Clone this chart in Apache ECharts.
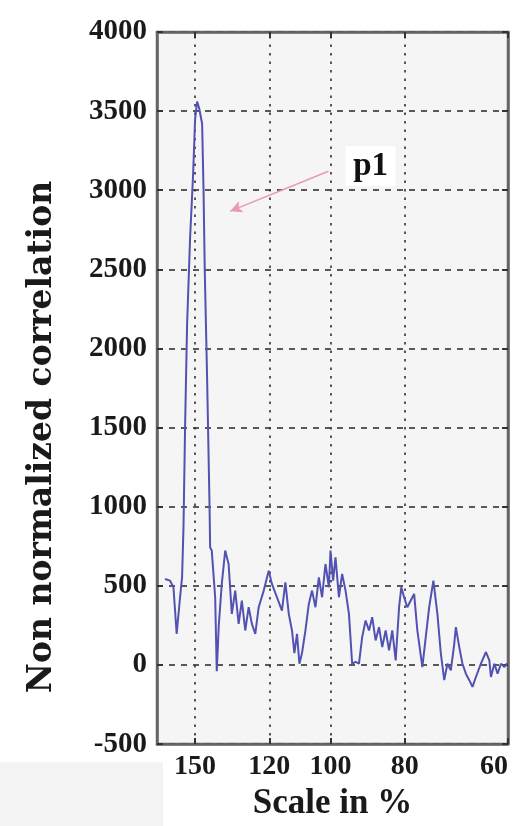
<!DOCTYPE html>
<html>
<head>
<meta charset="utf-8">
<script src="https://cdn.jsdelivr.net/npm/echarts@6/dist/echarts.min.js"></script>
<style>
html,body{margin:0;padding:0;background:#ffffff;}
#chart{width:513px;height:826px;}
</style>
</head>
<body>
<div id="chart"></div>
<script>
// sample position along the scale axis (index units) and correlation values
const sampleIdx = [4, 6.5, 8.2, 9.8, 11.5, 12.5, 13.2, 14, 15, 16.5, 18, 19, 20, 21, 22.5, 23.2, 23.8, 25, 26.2, 26.5,
  27.3, 29, 29.8, 30.8, 32.3, 34, 35.7, 37.3, 39, 40.7, 42.3, 44, 45.7, 47.3, 49, 50.7, 53.2, 55.7, 57.3, 59.8,
  62.3, 64, 65.7, 67.3, 68.5, 69.8, 71, 72.3, 74, 75.7, 77.3, 79, 80.7, 82.3, 84, 85.7, 86.5, 87.8, 89, 90.7,
  92.3, 94, 95.7, 97.3, 99, 100.7, 102.3, 104, 105.7, 107.3, 109, 110.7, 112.3, 114, 115.7, 117.3, 119, 120.7, 121.8, 123.2,
  124.8, 126.5, 128.2, 129.8, 132.3, 134, 135.7, 137.8, 139.8, 141.5, 143.2, 144.8, 146.5, 148.2, 149, 150.7, 152.3, 154,
  155.7, 157.3, 159, 161.5, 164, 165.7, 166.5, 168.2, 169.8, 171.5, 173.2, 174.5];
const corr = [543, 533, 491, 197, 428, 554, 868, 1500, 2150, 2700, 3100, 3450, 3560, 3520, 3420, 3000, 2500, 1800, 1000, 742,
  723, 428, -40, 250, 512, 723, 638, 323, 470, 260, 407, 218, 365, 260, 197, 365, 470, 596, 512, 428,
  344, 522, 323, 218, 75, 197, 8, 75, 218, 386, 470, 365, 554, 428, 638, 491, 723, 533, 680, 428,
  575, 470, 323, 8, 19, 8, 176, 281, 218, 302, 155, 239, 113, 218, 92, 218, 29, 365, 491, 428,
  365, 407, 449, 218, -13, 176, 365, 533, 323, 75, -96, 8, -34, 134, 239, 113, 8, -55,
  -96, -138, -76, 8, 82, 29, -76, 8, -55, 8, -13, 10];
// x tick positions (index units) and their scale labels
const xTickPos = [19, 56, 86.5, 123.5, 175];
const xTickLabels = ['150', '120', '100', '80', '60'];
// y axis
const yMin = -500, yMax = 4000, yStep = 500;
// annotation
const annotText = 'p1';
const annotPoint = [106.5, 3151];
const arrowFrom = [85.5, 3120];
const arrowTo = [36.5, 2868];
const xTitle = 'Scale in %';
const yTitle = 'Non normalized correlation';

const serif = '"Liberation Serif", "Times New Roman", serif';
const chart = echarts.init(document.getElementById('chart'), null, {renderer: 'canvas'});
const labelMap = {};
xTickPos.forEach((p, i) => { labelMap[p] = xTickLabels[i]; });

const gridLineStyle = {color: '#333', width: 1.6, type: [2.5, 6]};

const option = {
  backgroundColor: '#ffffff',
  animation: false,
  grid: {left: 157, right: 5, top: 32, bottom: 78, show: true, backgroundColor: '#f5f5f5', borderColor: '#666', borderWidth: 2.5},
  xAxis: [{
    type: 'value', min: 0, max: 175,
    name: xTitle, nameLocation: 'middle', nameGap: 36,
    nameTextStyle: {fontFamily: serif, fontWeight: 'bold', fontSize: 35, color: '#1a1a1a', verticalAlign: 'top'},
    axisLine: {show: true, onZero: false, lineStyle: {color: '#666', width: 2.5}},
    axisTick: {show: true, inside: true, length: 6, customValues: xTickPos, lineStyle: {color: '#333', width: 2}},
    axisLabel: {show: true, customValues: xTickPos, margin: 9, alignMaxLabel: 'right',
      fontFamily: serif, fontWeight: 'bold', fontSize: 28, color: '#1a1a1a',
      formatter: v => labelMap[v] !== undefined ? labelMap[v] : ''},
    splitLine: {show: false}
  }, {
    type: 'value', min: 0, max: 175, position: 'top',
    axisLine: {show: true, onZero: false, lineStyle: {color: '#666', width: 2.5}},
    axisTick: {show: true, inside: true, length: 6, customValues: xTickPos, lineStyle: {color: '#333', width: 2}},
    axisLabel: {show: false}, splitLine: {show: false}
  }],
  yAxis: [{
    type: 'value', min: yMin, max: yMax, interval: yStep,
    axisLine: {show: true, onZero: false, lineStyle: {color: '#666', width: 2.5}},
    axisTick: {show: true, inside: true, length: 6, lineStyle: {color: '#333', width: 2}},
    axisLabel: {show: true, margin: 10, fontFamily: serif, fontWeight: 'bold', fontSize: 29, color: '#1a1a1a',
      formatter: v => String(v)},
    splitLine: {show: true, lineStyle: {color: '#333', width: 1.6, type: [6, 6]}}
  }, {
    type: 'value', min: yMin, max: yMax, interval: yStep, position: 'right',
    axisLine: {show: true, onZero: false, lineStyle: {color: '#666', width: 2.5}},
    axisTick: {show: true, inside: true, length: 6, lineStyle: {color: '#333', width: 2}},
    axisLabel: {show: false}, splitLine: {show: false}
  }],
  graphic: [
    {type: 'rect', z: -10, shape: {x: 0, y: 762, width: 163, height: 64}, style: {fill: '#f3f3f3'}},
    {type: 'text', x: 42, y: 437, rotation: Math.PI / 2,
     style: {text: yTitle, font: 'bold 33px "DejaVu Serif", serif', fill: '#1a1a1a', align: 'center', verticalAlign: 'middle'}}
  ],
  series: [{
    type: 'line', data: [], z: 1, silent: true,
    markLine: {
      silent: true, symbol: ['none', 'none'], z: 1,
      label: {show: false}, lineStyle: gridLineStyle,
      data: xTickPos.slice(0, xTickPos.length - 1).map(p => ({xAxis: p}))
    }
  }, {
    type: 'line', z: 3,
    data: sampleIdx.map((s, i) => [s, corr[i]]),
    showSymbol: false, symbol: 'none',
    lineStyle: {color: '#5252b2', width: 2},
    markLine: {
      silent: true, z: 4, symbol: ['none', 'arrow'], symbolSize: [9, 12],
      label: {show: false},
      lineStyle: {color: '#e99ab0', width: 1.6, type: 'solid'},
      data: [[{coord: arrowFrom}, {coord: arrowTo}]]
    },
    markPoint: {
      silent: true, z: 5,
      data: [{coord: annotPoint, symbol: 'rect', symbolSize: [50, 40], itemStyle: {color: '#ffffff'},
        label: {show: true, position: 'inside', formatter: annotText, fontFamily: serif, fontWeight: 'bold', fontSize: 33, color: '#111'}}]
    }
  }]
};
chart.setOption(option);
</script>
</body>
</html>
